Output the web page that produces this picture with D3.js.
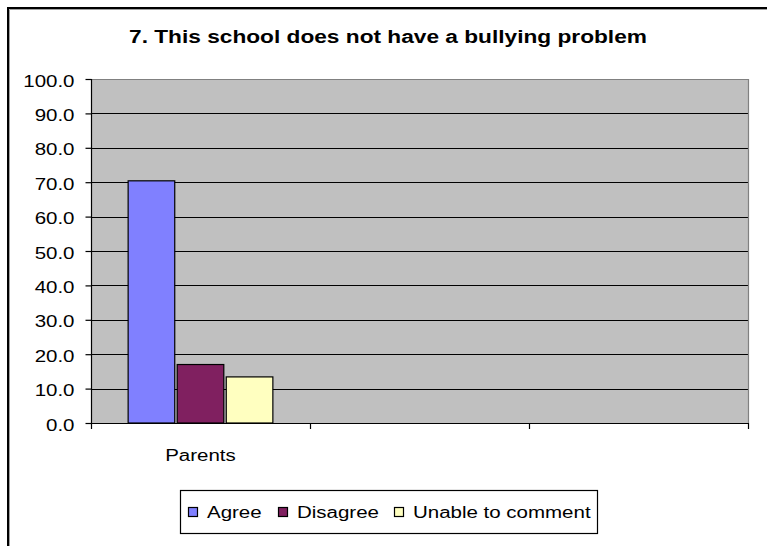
<!DOCTYPE html>
<html>
<head>
<meta charset="utf-8">
<script src="https://cdn.jsdelivr.net/npm/d3@7/dist/d3.min.js"></script>
<style>
  html, body { margin: 0; padding: 0; background: #fff; }
  svg { display: block; }
  text { font-family: "Liberation Sans", Arial, sans-serif; fill: #000; }
</style>
</head>
<body>
<svg id="chart" width="767" height="546"></svg>
<script>
// ---- data ----
const title = "7. This school does not have a bullying problem";
const categories = ["Parents", "", ""];
const seriesNames = ["Agree", "Disagree", "Unable to comment"];
const agreeValues = [70.4, null, null];
const disagreeValues = [17.0, null, null];
const unableValues = [13.4, null, null];
const yTicks = [0, 10, 20, 30, 40, 50, 60, 70, 80, 90, 100];
const seriesColors = ["#8080ff", "#802060", "#ffffc0"];

const seriesValues = [agreeValues, disagreeValues, unableValues];

// ---- layout ----
const W = 767, H = 546;
const plot = { left: 91, right: 748, top: 79, bottom: 423 };
const STRETCH = 1.28;

const svg = d3.select("#chart");

function stretch(sel, k) {
  sel.each(function () {
    const w = this.getComputedTextLength();
    d3.select(this).attr("textLength", w * k).attr("lengthAdjust", "spacingAndGlyphs");
  });
}

// outer frame (cropped at right/bottom)
svg.append("path").attr("d", `M8,${H} V8 H${W}`)
  .attr("fill", "none").attr("stroke", "#000").attr("stroke-width", 2);
svg.append("path").attr("d", `M9.5,${H} V9.5 H${W}`)
  .attr("fill", "none").attr("stroke", "#a0a0a0").attr("stroke-width", 1);

// title
const t = svg.append("text").attr("x", 388).attr("y", 43)
  .attr("text-anchor", "middle").style("font-size", "18px").style("font-weight", "bold")
  .text(title);
stretch(t, 1.26);

// scales
const x = d3.scaleBand().domain(d3.range(categories.length))
  .range([plot.left, plot.right]).paddingInner(0).paddingOuter(0);
const xs = d3.scaleBand().domain(d3.range(seriesNames.length))
  .range([0, x.bandwidth()]).paddingInner(0.05).paddingOuter(0.757);
const y = d3.scaleLinear().domain([0, 100]).range([plot.bottom, plot.top]);

// plot background
svg.append("rect").attr("x", plot.left).attr("y", plot.top)
  .attr("width", plot.right - plot.left).attr("height", plot.bottom - plot.top)
  .attr("fill", "#c0c0c0");

// gridlines
svg.append("g").selectAll("line").data(yTicks.filter(d => d > 0 && d < 100)).join("line")
  .attr("x1", plot.left).attr("x2", plot.right)
  .attr("y1", d => Math.round(y(d)) + 0.5).attr("y2", d => Math.round(y(d)) + 0.5)
  .attr("stroke", "#000").attr("stroke-width", 1.2);

// plot border (top/right)
svg.append("path")
  .attr("d", `M${plot.left},${plot.top + 0.5} H${plot.right + 0.5} V${plot.bottom}`)
  .attr("fill", "none").attr("stroke", "#808080").attr("stroke-width", 1.2);

// bars
const barData = [];
categories.forEach((c, ci) => {
  seriesValues.forEach((vals, si) => {
    if (vals[ci] != null) barData.push({ ci, si, v: vals[ci] });
  });
});
svg.append("g").selectAll("rect").data(barData).join("rect")
  .attr("x", d => x(d.ci) + xs(d.si))
  .attr("y", d => y(d.v))
  .attr("width", xs.bandwidth())
  .attr("height", d => y(0) - y(d.v))
  .attr("fill", d => seriesColors[d.si])
  .attr("stroke", "#000").attr("stroke-width", 1.2);

// y axis
const yAxis = d3.axisLeft(y).tickValues(yTicks).tickSize(6).tickPadding(11)
  .tickFormat(d => d.toFixed(1));
const gy = svg.append("g").attr("transform", `translate(${plot.left + 0.5},0)`).call(yAxis);
gy.select(".domain").remove();
gy.selectAll(".tick line").attr("stroke", "#000").attr("stroke-width", 1.2);
gy.selectAll(".tick text").attr("dy", null).attr("y", 7)
  .style("font-size", "16px").style("font-family", "'Liberation Sans', Arial, sans-serif");
stretch(gy.selectAll(".tick text"), STRETCH);
svg.append("line").attr("x1", plot.left + 0.5).attr("x2", plot.left + 0.5)
  .attr("y1", plot.top).attr("y2", plot.bottom + 6)
  .attr("stroke", "#000").attr("stroke-width", 1.2);

// x axis
svg.append("line").attr("x1", plot.left).attr("x2", plot.right + 0.5)
  .attr("y1", plot.bottom + 0.5).attr("y2", plot.bottom + 0.5)
  .attr("stroke", "#000").attr("stroke-width", 1.2);
svg.append("g").selectAll("line").data(d3.range(1, categories.length + 1)).join("line")
  .attr("x1", i => Math.round(plot.left + i * x.step()) + 0.5)
  .attr("x2", i => Math.round(plot.left + i * x.step()) + 0.5)
  .attr("y1", plot.bottom).attr("y2", plot.bottom + 6)
  .attr("stroke", "#000").attr("stroke-width", 1.2);
const catText = svg.append("g").selectAll("text").data(categories.map((c, i) => ({ c, i })).filter(d => d.c)).join("text")
  .attr("x", d => x(d.i) + x.bandwidth() / 2)
  .attr("y", 461)
  .attr("text-anchor", "middle").style("font-size", "16px")
  .text(d => d.c);
stretch(catText, STRETCH);

// legend
svg.append("rect").attr("x", 180.5).attr("y", 490.5).attr("width", 417).attr("height", 43)
  .attr("fill", "#fff").attr("stroke", "#000").attr("stroke-width", 1.2);
const legendX = [188, 278, 394];
const leg = svg.append("g").selectAll("g").data(seriesNames).join("g")
  .attr("transform", (d, i) => `translate(${legendX[i]},0)`);
leg.append("rect").attr("x", 0.5).attr("y", 507.5).attr("width", 9).attr("height", 9)
  .attr("fill", (d, i) => seriesColors[i]).attr("stroke", "#000").attr("stroke-width", 1.2);
const legText = leg.append("text").attr("x", 19).attr("y", 518).style("font-size", "16px").text(d => d);
stretch(legText, STRETCH);
</script>
</body>
</html>
